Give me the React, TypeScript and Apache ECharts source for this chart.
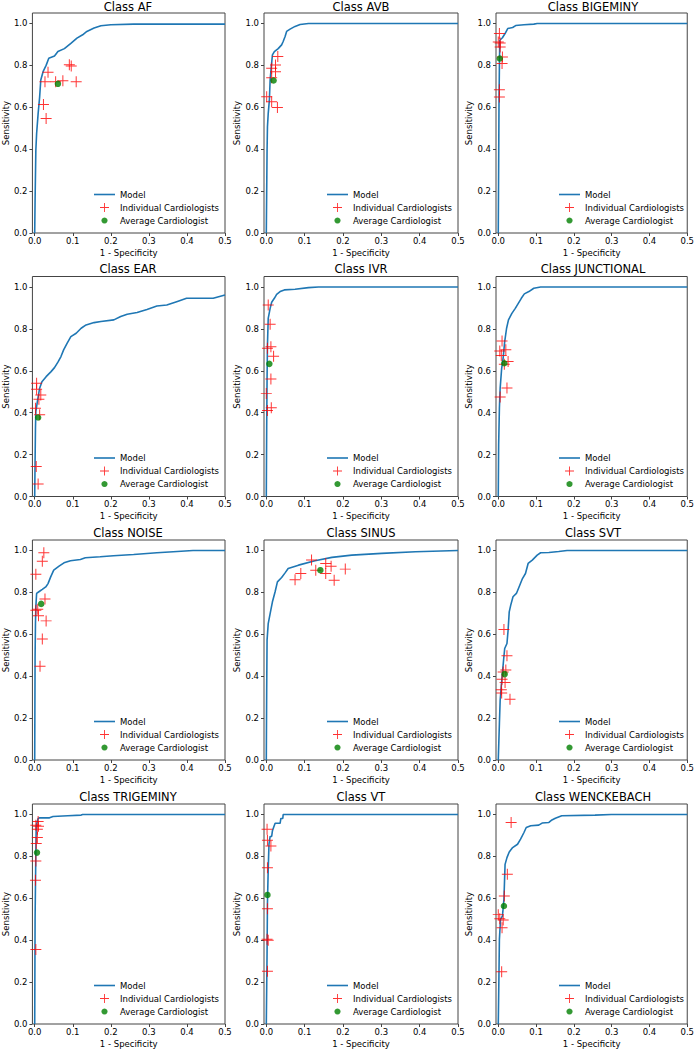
import { useEffect, useRef } from 'react';
import * as echarts from 'echarts';

const FONT = 'DejaVu Sans';

const classNames = ['AF', 'AVB', 'BIGEMINY', 'EAR', 'IVR', 'JUNCTIONAL', 'NOISE', 'SINUS', 'SVT', 'TRIGEMINY', 'VT', 'WENCKEBACH'];
const xTicks = [0, 0.1, 0.2, 0.3, 0.4, 0.5];
const yTicks = [0, 0.2, 0.4, 0.6, 0.8, 1.0];
const legendNames = ['Model', 'Individual Cardiologists', 'Average Cardiologist'];

// ROC curves [1 - specificity, sensitivity]
const afModel = [[0, 0], [0.001, 0.155], [0.003, 0.395], [0.005, 0.474], [0.009, 0.57], [0.013, 0.65], [0.016, 0.73], [0.022, 0.77], [0.03, 0.8], [0.037, 0.834], [0.052, 0.845], [0.061, 0.866], [0.078, 0.88], [0.095, 0.905], [0.111, 0.93], [0.126, 0.946], [0.137, 0.962], [0.156, 0.978], [0.174, 0.989], [0.2, 0.994], [0.26, 0.997], [0.5, 0.997]];
const avbModel = [[0, 0], [0.002, 0.395], [0.003, 0.506], [0.005, 0.57], [0.008, 0.634], [0.01, 0.73], [0.013, 0.794], [0.016, 0.85], [0.021, 0.866], [0.031, 0.88], [0.04, 0.898], [0.044, 0.914], [0.049, 0.938], [0.053, 0.962], [0.062, 0.973], [0.075, 0.986], [0.088, 0.995], [0.11, 1], [0.5, 1]];
const bigeminyModel = [[0, 0], [0.001, 0.314], [0.002, 0.633], [0.003, 0.793], [0.004, 0.92], [0.011, 0.932], [0.018, 0.952], [0.025, 0.976], [0.038, 0.981], [0.046, 0.99], [0.068, 0.994], [0.094, 0.997], [0.103, 1], [0.5, 1]];
const earModel = [[0, 0], [0.001, 0.167], [0.002, 0.326], [0.003, 0.405], [0.007, 0.453], [0.01, 0.485], [0.013, 0.517], [0.019, 0.548], [0.03, 0.572], [0.043, 0.596], [0.052, 0.615], [0.061, 0.641], [0.069, 0.668], [0.076, 0.7], [0.085, 0.731], [0.095, 0.763], [0.109, 0.779], [0.122, 0.803], [0.135, 0.819], [0.156, 0.83], [0.174, 0.835], [0.208, 0.843], [0.226, 0.859], [0.243, 0.87], [0.269, 0.878], [0.295, 0.893], [0.321, 0.909], [0.347, 0.914], [0.373, 0.93], [0.399, 0.946], [0.469, 0.946], [0.5, 0.962]];
const ivrModel = [[0, 0], [0.001, 0.326], [0.002, 0.564], [0.003, 0.723], [0.005, 0.85], [0.01, 0.898], [0.014, 0.927], [0.021, 0.946], [0.027, 0.965], [0.036, 0.978], [0.047, 0.986], [0.075, 0.989], [0.11, 0.997], [0.136, 1], [0.5, 1]];
const junctionalModel = [[0, 0], [0.001, 0.246], [0.003, 0.421], [0.005, 0.517], [0.009, 0.612], [0.013, 0.663], [0.017, 0.739], [0.022, 0.803], [0.027, 0.843], [0.036, 0.874], [0.045, 0.898], [0.053, 0.922], [0.061, 0.946], [0.069, 0.967], [0.081, 0.978], [0.094, 0.994], [0.112, 1], [0.5, 1]];
const noiseModel = [[0, 0], [0.001, 0.49], [0.002, 0.65], [0.003, 0.731], [0.005, 0.795], [0.011, 0.803], [0.02, 0.814], [0.029, 0.826], [0.035, 0.842], [0.042, 0.874], [0.05, 0.906], [0.064, 0.925], [0.077, 0.941], [0.094, 0.951], [0.12, 0.957], [0.133, 0.965], [0.172, 0.97], [0.207, 0.975], [0.26, 0.981], [0.321, 0.989], [0.364, 0.994], [0.416, 1], [0.5, 1]];
const sinusModel = [[0, 0], [0.001, 0.333], [0.002, 0.572], [0.005, 0.651], [0.01, 0.699], [0.016, 0.755], [0.023, 0.803], [0.029, 0.85], [0.04, 0.871], [0.049, 0.893], [0.057, 0.914], [0.084, 0.93], [0.127, 0.951], [0.171, 0.967], [0.223, 0.978], [0.301, 0.986], [0.389, 0.994], [0.5, 1]];
const svtModel = [[0, 0], [0.003, 0.174], [0.005, 0.285], [0.01, 0.396], [0.014, 0.476], [0.017, 0.532], [0.023, 0.556], [0.026, 0.619], [0.029, 0.707], [0.033, 0.739], [0.039, 0.779], [0.048, 0.795], [0.055, 0.826], [0.064, 0.866], [0.072, 0.89], [0.079, 0.938], [0.09, 0.954], [0.103, 0.978], [0.112, 0.989], [0.134, 0.99], [0.16, 0.995], [0.182, 1], [0.5, 1]];
const trigeminyModel = [[0, 0], [0.001, 0.5], [0.003, 0.818], [0.004, 0.946], [0.009, 0.981], [0.013, 0.984], [0.039, 0.984], [0.048, 0.99], [0.087, 0.994], [0.122, 0.997], [0.126, 1], [0.5, 1]];
const vtModel = [[0, 0], [0.002, 0.34], [0.003, 0.579], [0.005, 0.738], [0.007, 0.858], [0.01, 0.895], [0.014, 0.895], [0.016, 0.922], [0.019, 0.938], [0.023, 0.958], [0.036, 0.958], [0.038, 0.981], [0.043, 0.981], [0.044, 1], [0.5, 1]];
const wenckebachModel = [[0, 0], [0.002, 0.26], [0.003, 0.404], [0.006, 0.5], [0.011, 0.515], [0.015, 0.595], [0.017, 0.707], [0.018, 0.762], [0.023, 0.794], [0.029, 0.821], [0.038, 0.842], [0.051, 0.858], [0.059, 0.882], [0.068, 0.914], [0.074, 0.938], [0.086, 0.946], [0.107, 0.949], [0.116, 0.959], [0.134, 0.962], [0.142, 0.974], [0.151, 0.982], [0.168, 0.994], [0.256, 0.997], [0.299, 1], [0.5, 1]];

// Individual cardiologists
const afCardio = [[0.091, 0.803], [0.096, 0.797], [0.035, 0.767], [0.027, 0.722], [0.055, 0.722], [0.074, 0.727], [0.109, 0.722], [0.023, 0.613], [0.03, 0.546]];
const avbCardio = [[0.03, 0.842], [0.024, 0.802], [0.014, 0.786], [0.024, 0.77], [0.014, 0.741], [0.001, 0.65], [0.014, 0.626], [0.029, 0.599]];
const bigeminyCardio = [[0.003, 0.952], [0, 0.912], [0.005, 0.907], [0.005, 0.888], [0.011, 0.84], [0.01, 0.809], [0.003, 0.684], [0.003, 0.649]];
const earCardio = [[0.005, 0.54], [0.005, 0.512], [0.016, 0.485], [0.011, 0.464], [0.002, 0.421], [0.013, 0.39], [0.004, 0.143], [0.009, 0.06]];
const ivrCardio = [[0.005, 0.914], [0.01, 0.822], [0.003, 0.707], [0.012, 0.715], [0.019, 0.669], [0.012, 0.561], [0, 0.491], [0.013, 0.424], [0.003, 0.41]];
const junctionalCardio = [[0.01, 0.742], [0.004, 0.695], [0.02, 0.7], [0.008, 0.673], [0.026, 0.644], [0.016, 0.631], [0.023, 0.518], [0.005, 0.475]];
const noiseCardio = [[0.024, 0.989], [0.02, 0.949], [0.003, 0.887], [0.027, 0.768], [0.008, 0.72], [0.003, 0.715], [0.01, 0.689], [0.03, 0.664], [0.02, 0.578], [0.014, 0.447]];
const sinusCardio = [[0.118, 0.955], [0.155, 0.938], [0.169, 0.925], [0.129, 0.906], [0.155, 0.89], [0.09, 0.89], [0.206, 0.911], [0.075, 0.86], [0.177, 0.858]];
const svtCardio = [[0.015, 0.623], [0.023, 0.498], [0.02, 0.43], [0.013, 0.42], [0.01, 0.385], [0.018, 0.37], [0.008, 0.335], [0.009, 0.32], [0.031, 0.29]];
const trigeminyCardio = [[0.009, 0.967], [0.003, 0.949], [0.01, 0.944], [0.007, 0.93], [0.007, 0.89], [0.004, 0.861], [0.003, 0.778], [0.002, 0.686], [0.003, 0.356]];
const vtCardio = [[0.002, 0.93], [0.003, 0.877], [0.012, 0.85], [0.003, 0.746], [0.003, 0.55], [0.002, 0.404], [0.005, 0.4], [0.003, 0.252]];
const wenckebachCardio = [[0.034, 0.962], [0.024, 0.715], [0.016, 0.611], [0, 0.522], [0.004, 0.502], [0.013, 0.496], [0.01, 0.459], [0.009, 0.249]];

// Average cardiologist
const afAverage = [[0.061, 0.712]];
const avbAverage = [[0.019, 0.728]];
const bigeminyAverage = [[0.004, 0.833]];
const earAverage = [[0.009, 0.377]];
const ivrAverage = [[0.008, 0.633]];
const junctionalAverage = [[0.016, 0.636]];
const noiseAverage = [[0.017, 0.745]];
const sinusAverage = [[0.141, 0.906]];
const svtAverage = [[0.017, 0.41]];
const trigeminyAverage = [[0.006, 0.818]];
const vtAverage = [[0.003, 0.616]];
const wenckebachAverage = [[0.015, 0.563]];

const modelCurves = [afModel, avbModel, bigeminyModel, earModel, ivrModel, junctionalModel, noiseModel, sinusModel, svtModel, trigeminyModel, vtModel, wenckebachModel];
const cardioPoints = [afCardio, avbCardio, bigeminyCardio, earCardio, ivrCardio, junctionalCardio, noiseCardio, sinusCardio, svtCardio, trigeminyCardio, vtCardio, wenckebachCardio];
const averagePoints = [afAverage, avbAverage, bigeminyAverage, earAverage, ivrAverage, junctionalAverage, noiseAverage, sinusAverage, svtAverage, trigeminyAverage, vtAverage, wenckebachAverage];

const PLUS = 'path://M4.55,0h0.9v4.55h4.55v0.9h-4.55v4.55h-0.9v-4.55h-4.55v-0.9h4.55z';
const PLUS_LEGEND = 'path://M0,0M10,10M4.55,0.5h0.9v4.05h4.05v0.9h-4.05v4.05h-0.9v-4.05h-4.05v-0.9h4.05z';
const CIRCLE_LEGEND = 'path://M0,0M10,10M5,1.9A3.1,3.1,0,1,1,4.99,1.9z';
const LINE_LEGEND = 'path://M0,0M21,10M0,4.2h21v1.6h-21z';

const colLeft = [31, 264, 496];
const rowTop = [13, 276.5, 540, 804];
const GRID_W = 194;
const GRID_H = 220;
const FRAME = '#444';

function buildOption() {
  const grid: any[] = [];
  const xAxis: any[] = [];
  const yAxis: any[] = [];
  const series: any[] = [];
  const title: any[] = [];
  const legend: any[] = [];
  classNames.forEach((name, i) => {
    const r = Math.floor(i / 3);
    const c = i % 3;
    const left = colLeft[c];
    const top = rowTop[r];
    grid.push({ left, top, width: GRID_W, height: GRID_H, show: true, borderColor: FRAME, borderWidth: 1, backgroundColor: 'transparent', containLabel: false });
    xAxis.push({
      gridIndex: i, type: 'value', min: -0.006, max: 0.5,
      axisLine: { show: false, onZero: false },
      splitLine: { show: false },
      axisTick: { show: true, length: 3, customValues: xTicks, lineStyle: { color: FRAME } },
      axisLabel: { customValues: xTicks, formatter: (v: number) => v.toFixed(1), fontSize: 8.5, color: '#000', margin: 3, fontFamily: FONT },
      name: '1 - Specificity', nameLocation: 'middle', nameGap: 15,
      nameTextStyle: { fontSize: 8.5, color: '#000', fontFamily: FONT },
    });
    yAxis.push({
      gridIndex: i, type: 'value', min: 0, max: 1.05,
      axisLine: { show: false, onZero: false },
      splitLine: { show: false },
      axisTick: { show: true, length: 3, customValues: yTicks, lineStyle: { color: FRAME } },
      axisLabel: { customValues: yTicks, formatter: (v: number) => v.toFixed(1), fontSize: 8.5, color: '#000', margin: 5, fontFamily: FONT },
      name: 'Sensitivity', nameLocation: 'middle', nameGap: 22, nameRotate: 90,
      nameTextStyle: { fontSize: 8.5, color: '#000', fontFamily: FONT },
    });
    title.push({
      text: 'Class ' + name, left: left + GRID_W / 2, top: Math.max(1, top - 13.5), textAlign: 'center', padding: 0,
      textStyle: { fontSize: 11.5, fontWeight: 'normal', color: '#000', fontFamily: FONT, lineHeight: 12 },
    });
    legend.push({
      left: left + 63, top: top + GRID_H - 43.5, orient: 'vertical', itemGap: 3, itemWidth: 21, itemHeight: 10,
      padding: 0, selectedMode: false,
      textStyle: { fontSize: 8.5, color: '#000', fontFamily: FONT, lineHeight: 10 },
      data: [
        { name: legendNames[0], icon: LINE_LEGEND },
        { name: legendNames[1], icon: PLUS_LEGEND },
        { name: legendNames[2], icon: CIRCLE_LEGEND },
      ],
    });
    series.push({
      type: 'line', name: legendNames[0], xAxisIndex: i, yAxisIndex: i, data: modelCurves[i],
      symbol: 'none', showSymbol: false, lineStyle: { color: '#1f77b4', width: 1.6 }, itemStyle: { color: '#1f77b4' }, z: 2,
    });
    series.push({
      type: 'scatter', name: legendNames[1], xAxisIndex: i, yAxisIndex: i, data: cardioPoints[i],
      symbol: PLUS, symbolSize: 11, itemStyle: { color: '#ff0000' }, z: 3,
    });
    series.push({
      type: 'scatter', name: legendNames[2], xAxisIndex: i, yAxisIndex: i, data: averagePoints[i],
      symbol: 'circle', symbolSize: 6.5, itemStyle: { color: '#008000' }, z: 4,
    });
  });
  return {
    animation: false,
    backgroundColor: '#ffffff',
    textStyle: { fontFamily: FONT },
    grid, xAxis, yAxis, series, title, legend,
  };
}

export default function App() {
  const ref = useRef<HTMLDivElement>(null);
  useEffect(() => {
    document.body.style.margin = '0';
    if (!ref.current) return;
    const chart = echarts.init(ref.current, null, { renderer: 'svg' });
    chart.setOption(buildOption() as any);
    return () => chart.dispose();
  }, []);
  return <div ref={ref} style={{ width: 697, height: 1050 }} />;
}
